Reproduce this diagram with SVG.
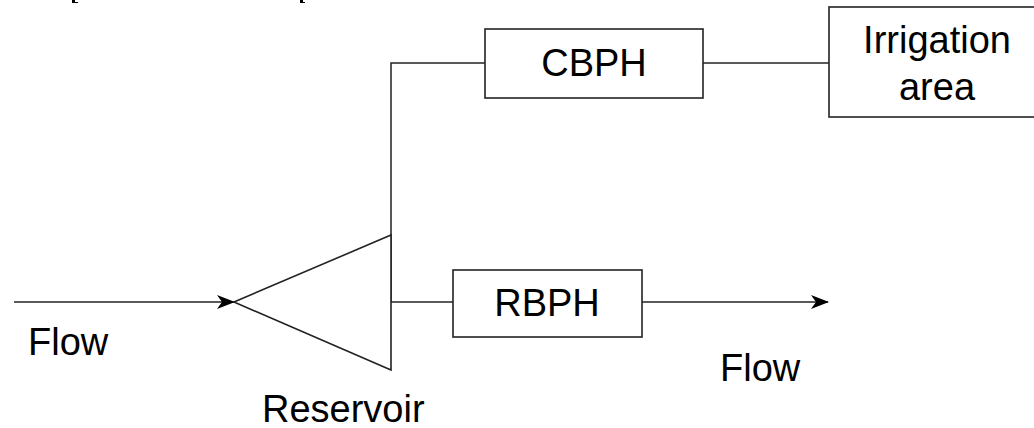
<svg xmlns="http://www.w3.org/2000/svg" width="1034" height="428" viewBox="0 0 1034 428">
  <defs>
    <style>
      .box { fill: #ffffff; stroke: #222222; stroke-width: 1.6; }
      .wire { fill: none; stroke: #222222; stroke-width: 1.5; }
      .lbl { font-family: "Liberation Sans", Arial, sans-serif; font-size: 38px; fill: #000000; }
      .mid { text-anchor: middle; }
    </style>
    <marker id="dart" viewBox="0 0 18 14" refX="17" refY="7" markerWidth="18" markerHeight="14" markerUnits="userSpaceOnUse" orient="auto">
      <path d="M0,0 L18,7 L0,14 L5,7 Z" fill="#000000"/>
    </marker>
  </defs>
  <rect width="1034" height="428" fill="#ffffff"/>

  <!-- clipped heading remnants along the top edge -->
  <rect x="72" y="0" width="3" height="3" fill="#000"/>
  <rect x="75" y="2" width="3" height="1" fill="#000"/>
  <rect x="300" y="0" width="3" height="3" fill="#000"/>
  <rect x="303" y="2" width="2" height="1" fill="#000"/>

  <g id="connectors">
    <line class="wire" x1="14" y1="302" x2="234" y2="302" marker-end="url(#dart)"/>
    <polyline class="wire" points="391,302 391,63 485,63"/>
    <line class="wire" x1="391" y1="302" x2="453" y2="302"/>
    <line class="wire" x1="703" y1="63" x2="829" y2="63"/>
    <line class="wire" x1="642" y1="302" x2="828" y2="302" marker-end="url(#dart)"/>
  </g>

  <g id="reservoir">
    <polygon class="box" points="234,302 391,235 391,370" fill="none"/>
    <text class="lbl" x="262" y="422">Reservoir</text>
  </g>

  <g id="cbph">
    <rect class="box" x="485" y="29" width="218" height="69"/>
    <text class="lbl mid" x="594" y="76">CBPH</text>
  </g>

  <g id="irrigation">
    <rect class="box" x="829" y="7" width="220" height="110"/>
    <text class="lbl mid" x="937" y="53">Irrigation</text>
    <text class="lbl mid" x="937" y="100">area</text>
  </g>

  <g id="rbph">
    <rect class="box" x="453" y="270" width="189" height="67"/>
    <text class="lbl mid" x="547" y="316">RBPH</text>
  </g>

  <g id="flow-in">
    <text class="lbl" x="28" y="355">Flow</text>
  </g>

  <g id="flow-out">
    <text class="lbl" x="720" y="381">Flow</text>
  </g>
</svg>
